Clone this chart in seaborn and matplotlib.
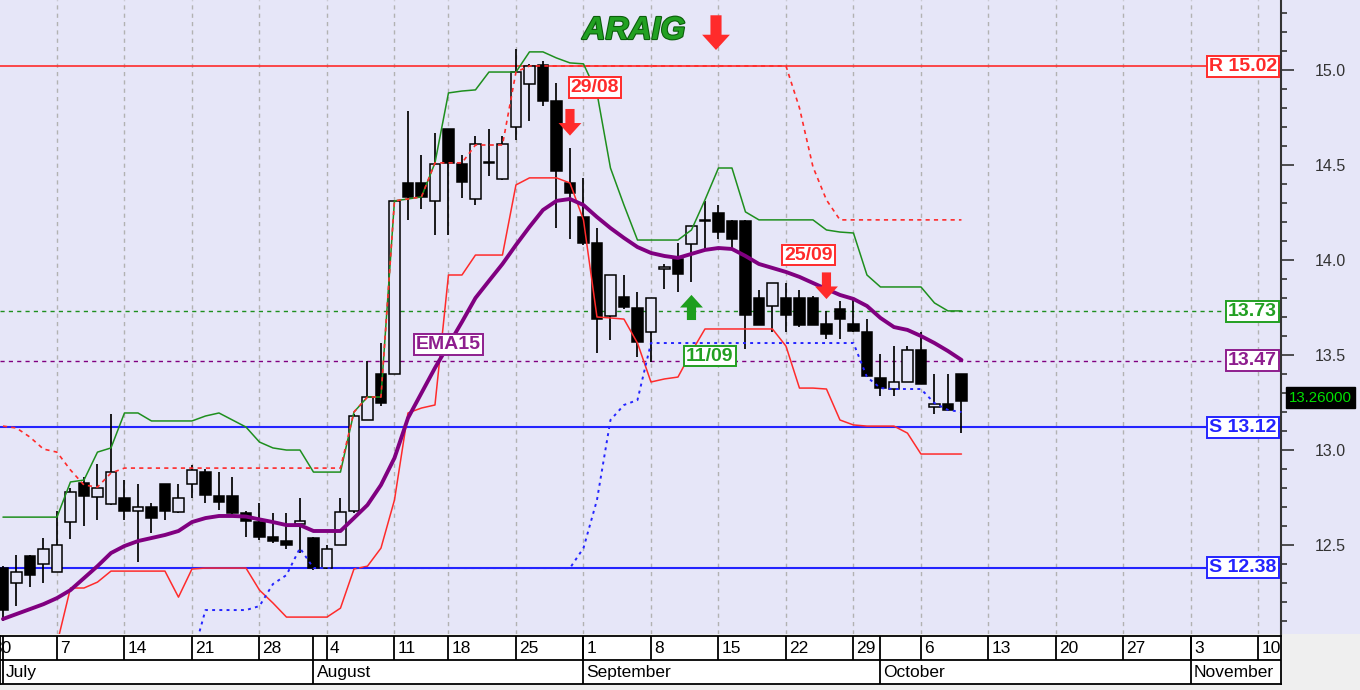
import numpy as np
import pandas as pd
import matplotlib
matplotlib.use("Agg")
import matplotlib.pyplot as plt
import matplotlib.patheffects as pe
from matplotlib.patches import Rectangle
from matplotlib.ticker import MultipleLocator, FormatStrFormatter
from matplotlib.transforms import offset_copy
import seaborn as sns

# ---------------------------------------------------------------- data
ticker = "ARAIG"
calendar_start, calendar_end = "2014-06-30", "2014-11-14"
holidays = ["2014-08-15"]
first_day, last_day = "2014-07-01", "2014-10-09"

opens = [12.38, 12.30, 12.44, 12.40, 12.36, 12.62, 12.825, 12.755, 12.715, 12.75,
         12.68, 12.70, 12.82, 12.675, 12.82, 12.885, 12.76, 12.76, 12.667, 12.62,
         12.54, 12.52, 12.61, 12.535, 12.38, 12.50, 12.68, 13.16, 13.40, 13.40,
         14.405, 14.405, 14.31, 14.69, 14.505, 14.32, 14.51, 14.425, 14.70, 14.925,
         15.025, 14.835, 14.405, 14.225, 14.09, 13.705, 13.805, 13.745, 13.62, 13.955,
         14.005, 14.085, 14.205, 14.245, 14.205, 14.205, 13.80, 13.76, 13.80, 13.80,
         13.80, 13.665, 13.74, 13.665, 13.62, 13.38, 13.32, 13.36, 13.525, 13.225,
         13.24, 13.40]
highs = [12.39, 12.45, 12.45, 12.535, 12.68, 12.80, 12.86, 12.925, 13.19, 12.84,
         12.82, 12.72, 12.82, 12.82, 12.92, 12.90, 12.885, 12.86, 12.68, 12.72,
         12.667, 12.667, 12.745, 12.54, 12.50, 12.745, 13.19, 13.47, 13.565, 14.31,
         14.785, 14.55, 14.67, 14.69, 14.55, 14.65, 14.69, 14.65, 15.11, 15.03,
         15.045, 14.93, 14.59, 14.43, 14.17, 13.92, 13.92, 13.83, 13.80, 13.98,
         14.09, 14.18, 14.31, 14.29, 14.21, 14.21, 13.84, 13.88, 13.88, 13.84,
         13.81, 13.73, 13.785, 13.79, 13.69, 13.505, 13.545, 13.545, 13.62, 13.40,
         13.40, 13.40]
lows = [12.10, 12.18, 12.28, 12.30, 12.36, 12.53, 12.60, 12.63, 12.71, 12.63,
        12.41, 12.565, 12.63, 12.67, 12.745, 12.72, 12.685, 12.665, 12.545, 12.525,
        12.51, 12.48, 12.46, 12.37, 12.375, 12.50, 12.67, 13.16, 13.23, 13.40,
        14.21, 14.27, 14.13, 14.13, 14.325, 14.29, 14.44, 14.42, 14.63, 14.73,
        14.81, 14.17, 14.11, 14.08, 13.51, 13.58, 13.74, 13.49, 13.465, 13.845,
        13.83, 13.885, 14.05, 14.11, 14.065, 13.53, 13.66, 13.62, 13.62, 13.65,
        13.66, 13.585, 13.585, 13.62, 13.385, 13.285, 13.285, 13.36, 13.345, 13.19,
        13.205, 13.09]
closes = [12.16, 12.36, 12.34, 12.48, 12.50, 12.78, 12.76, 12.80, 12.885, 12.68,
          12.70, 12.645, 12.68, 12.745, 12.895, 12.765, 12.725, 12.667, 12.628, 12.545,
          12.52, 12.50, 12.625, 12.38, 12.48, 12.675, 13.18, 13.28, 13.25, 14.31,
          14.33, 14.33, 14.505, 14.51, 14.41, 14.61, 14.515, 14.61, 14.99, 15.02,
          14.835, 14.47, 14.35, 14.09, 13.69, 13.92, 13.75, 13.57, 13.80, 13.96,
          13.925, 14.18, 14.21, 14.145, 14.11, 13.71, 13.66, 13.88, 13.71, 13.66,
          13.66, 13.61, 13.69, 13.625, 13.39, 13.325, 13.36, 13.525, 13.35, 13.24,
          13.21, 13.26]
ema15 = [12.111, 12.137, 12.163, 12.189, 12.221, 12.263, 12.326, 12.389, 12.458, 12.495,
         12.521, 12.537, 12.553, 12.574, 12.621, 12.642, 12.653, 12.653, 12.650, 12.635,
         12.621, 12.605, 12.605, 12.574, 12.574, 12.574, 12.642, 12.711, 12.816, 12.958,
         13.168, 13.300, 13.432, 13.553, 13.674, 13.800, 13.890, 13.979, 14.079, 14.174,
         14.263, 14.311, 14.321, 14.289, 14.226, 14.168, 14.116, 14.068, 14.037, 14.021,
         14.011, 14.032, 14.053, 14.063, 14.058, 14.021, 13.979, 13.958, 13.937, 13.911,
         13.879, 13.847, 13.816, 13.795, 13.758, 13.695, 13.647, 13.632, 13.600, 13.563,
         13.521, 13.474]
upper_band = [12.647, 12.647, 12.647, 12.647, 12.647, 12.832, 12.842, 12.989, 13.011, 13.195,
              13.195, 13.153, 13.153, 13.153, 13.153, 13.179, 13.195, 13.158, 13.121, 13.042,
              13.011, 13.000, 13.000, 12.884, 12.884, 12.884, 13.200, 13.279, 13.279, 14.311,
              14.321, 14.332, 14.511, 14.879, 14.889, 14.895, 14.989, 14.989, 14.989, 15.095,
              15.095, 15.063, 15.037, 15.032, 14.879, 14.484, 14.289, 14.105, 14.105, 14.105,
              14.105, 14.158, 14.316, 14.484, 14.484, 14.253, 14.211, 14.211, 14.211, 14.211,
              14.211, 14.158, 14.147, 14.142, 13.921, 13.858, 13.858, 13.858, 13.858, 13.774,
              13.732, 13.732]
lower_band = [np.nan, np.nan, np.nan, np.nan, 11.980, 12.274, 12.274, 12.305, 12.363, 12.363,
              12.363, 12.363, 12.363, 12.226, 12.374, 12.379, 12.379, 12.379, 12.379, 12.263,
              12.195, 12.121, 12.121, 12.121, 12.121, 12.168, 12.374, 12.389, 12.484, 12.737,
              13.195, 13.221, 13.237, 13.921, 13.921, 14.026, 14.026, 14.026, 14.395, 14.432,
              14.432, 14.432, 14.405, 14.211, 13.700, 13.695, 13.689, 13.563, 13.358, 13.374,
              13.384, 13.516, 13.637, 13.637, 13.637, 13.637, 13.637, 13.637, 13.547, 13.326,
              13.326, 13.321, 13.158, 13.132, 13.126, 13.126, 13.126, 13.089, 12.979, 12.979,
              12.979, 12.979]
stop_above = [13.126, 13.116, 13.068, 13.005, 12.989, 12.895, 12.816, 12.805, 12.879, 12.905,
              12.905, 12.905, 12.905, 12.905, 12.905, 12.905, 12.905, 12.905, 12.905, 12.905,
              12.905, 12.905, 12.905, 12.905, 12.905, 12.905, 13.200, 13.279, 13.279, 14.311,
              14.321, 14.332, 14.511, 14.511, 14.511, 14.605, 14.605, 14.605, 14.989, 15.021,
              15.021, 15.021, 15.021, 15.021, 15.021, 15.021, 15.021, 15.021, 15.021, 15.021,
              15.021, 15.021, 15.021, 15.021, 15.021, 15.021, 15.021, 15.021, 15.021, 14.800,
              14.490, 14.316, 14.211, 14.211, 14.211, 14.211, 14.211, 14.211, 14.211, 14.211,
              14.211, 14.211]
stop_below = [np.nan, np.nan, np.nan, np.nan, np.nan, np.nan, np.nan, np.nan, np.nan, np.nan,
              np.nan, np.nan, np.nan, np.nan, 11.900, 12.158, 12.158, 12.158, 12.158, 12.179,
              12.295, 12.342, 12.484, 12.379, 12.379, 12.379, 12.379, 12.379, 12.379, 12.379,
              12.379, 12.379, 12.379, 12.379, 12.379, 12.379, 12.379, 12.379, 12.379, 12.379,
              12.379, 12.379, 12.379, 12.484, 12.737, 13.158, 13.237, 13.263, 13.563, 13.563,
              13.563, 13.563, 13.563, 13.563, 13.563, 13.563, 13.563, 13.563, 13.563, 13.563,
              13.563, 13.563, 13.563, 13.563, 13.384, 13.326, 13.321, 13.321, 13.321, 13.247,
              13.211, 13.200]
resistance_levels = [15.02]
support_levels = [13.12, 12.38]
band_level = 13.73
ema_level = 13.47
last_price = 13.26
sell_signals = ["2014-08-29", "2014-09-25"]
buy_signals = ["2014-09-11"]
ema_label_date = "2014-08-18"

# ---------------------------------------------------------------- style
sns.set_theme(style="white")
plt.rcParams["font.family"] = ["Liberation Sans", "DejaVu Sans"]

BG = "#E6E6F8"
GREEN = "#1E8F1E"
RED = "#FF2B2B"
BLUE = "#2424FF"
PURPLE = "#800080"
LBL_GREEN = "#22A022"
LBL_PURPLE = "#8E1E8E"
XLIM = (0.78, 95.67)

W, H = 1360, 690
fig = plt.figure(figsize=(W / 100, H / 100), dpi=100, facecolor="#EFEFEF")
fig.patches.append(Rectangle((0, 56 / H), 1, 1 - 56 / H, transform=fig.transFigure,
                             fc=BG, ec="none", zorder=-10))
ax = fig.add_axes([0, 56 / H, 1281 / W, 634 / H])
axd = fig.add_axes([0, 6 / H, 1281 / W, 48 / H], sharex=ax)
ax.set_facecolor(BG)

# trading-day calendar -> x positions
cal = pd.bdate_range(calendar_start, calendar_end)
cal = cal[~cal.isin(pd.to_datetime(holidays))]
dates = cal[(cal >= first_day) & (cal <= last_day)]
pos = np.array([cal.get_loc(d) for d in dates], dtype=float)


def pos_of(d):
    return float(cal.get_loc(pd.Timestamp(d)))


def row_of(d):
    return list(dates).index(pd.Timestamp(d))


mondays = cal[cal.weekday == 0]
mon_pos = [float(cal.get_loc(d)) for d in mondays]
month_first = cal.to_series().groupby(cal.to_period("M")).min()
month_first = month_first[month_first >= pd.Timestamp(first_day)]
month_pos = [float(cal.get_loc(d)) for d in month_first]

# gridlines
ax.set_xticks(mon_pos)
ax.grid(True, axis="x", color="#B2B2B2", linestyle=(0, (3, 3)), linewidth=1.0)
ax.set_axisbelow(True)

# horizontal levels
for r in resistance_levels:
    ax.axhline(r, color=RED, lw=1.2, zorder=1.5)
for s in support_levels:
    ax.axhline(s, color=BLUE, lw=1.5, zorder=1.5)
ax.axhline(band_level, color=GREEN, lw=1.0, ls=(0, (3, 3)), zorder=1.5)
ax.axhline(ema_level, color=PURPLE, lw=1.0, ls=(0, (3, 3)), zorder=1.5)

# candles
o, h, l, c = (np.array(v, dtype=float) for v in (opens, highs, lows, closes))
up = c >= o
blo = np.minimum(o, c)
bhi = np.maximum(o, c)
bh = np.maximum(bhi - blo, 0.006)
ax.vlines(pos, l, blo, color="black", lw=1.25, zorder=3)
ax.vlines(pos, bhi, h, color="black", lw=1.25, zorder=3)
ax.bar(pos[up], bh[up], bottom=blo[up], width=0.76, color=BG, edgecolor="black",
       linewidth=1.1, zorder=3.2)
ax.bar(pos[~up], bh[~up], bottom=blo[~up], width=0.76, color="black", edgecolor="black",
       linewidth=1.1, zorder=3.2)

# indicator lines
df = pd.DataFrame({"pos": pos, "ema": ema15, "upper": upper_band, "lower": lower_band,
                   "stop_hi": stop_above, "stop_lo": stop_below})
sns.lineplot(data=df, x="pos", y="upper", color=GREEN, linewidth=1.1, ax=ax, zorder=4)
sns.lineplot(data=df, x="pos", y="lower", color=RED, linewidth=1.1, ax=ax, zorder=4)
sns.lineplot(data=df, x="pos", y="stop_hi", color=RED, linewidth=1.2,
             linestyle=(0, (2.5, 2.5)), ax=ax, zorder=4.2)
sns.lineplot(data=df, x="pos", y="stop_lo", color=BLUE, linewidth=1.4,
             linestyle=(0, (1.5, 2.2)), ax=ax, zorder=4.2)
sns.lineplot(data=df, x="pos", y="ema", color=PURPLE, linewidth=2.8, ax=ax, zorder=4.5)
ax.set(xlabel="", ylabel="")

ax.set_xlim(*XLIM)
ax.set_ylim(12.032, 15.368)

# right axis
ax.yaxis.tick_right()
ax.yaxis.set_major_locator(MultipleLocator(0.5))
ax.yaxis.set_minor_locator(MultipleLocator(0.1))
ax.yaxis.set_major_formatter(FormatStrFormatter("%.1f"))
ax.tick_params(axis="y", which="major", direction="out", length=9.5, width=1.2,
               color="#333333", pad=15, labelsize=11.5, labelcolor="#333333",
               right=True, left=False)
ax.tick_params(axis="y", which="minor", direction="out", length=4.5, width=1.2,
               color="#333333", right=True, left=False)
ax.tick_params(axis="x", length=0, labelbottom=False, bottom=False)
for s in ["top", "left", "bottom"]:
    ax.spines[s].set_visible(False)
ax.spines["right"].set_color("#333333")
ax.spines["right"].set_linewidth(1.5)

# labels on the right
yt = ax.get_yaxis_transform()
box_kw = dict(fontsize=14, fontweight="bold", zorder=8, va="center")


def level_label(val, text, color):
    ax.text(0.9966, val, text, transform=yt, ha="right", color=color,
            bbox=dict(boxstyle="square,pad=0.1", fc="white", ec=color, lw=1.4), **box_kw)


for r in resistance_levels:
    level_label(r, f"R {r:.2f}", RED)
for s in support_levels:
    level_label(s, f"S {s:.2f}", BLUE)
level_label(band_level, f"{band_level:.2f}", LBL_GREEN)
level_label(ema_level, f"{ema_level:.2f}", LBL_PURPLE)

ax.text(1289 / 1281, last_price + 0.015, f"{last_price:.5f}", transform=yt, ha="left",
        va="center", fontsize=10.8, color="#00E000", clip_on=False, zorder=9,
        bbox=dict(boxstyle="square,pad=0.22", fc="black", ec="black"))


# signals
def fat_arrow(xy, tail_pts, color, scale, shrink, coords="data"):
    ax.annotate("", xy=xy, xycoords=coords, xytext=tail_pts, textcoords="offset points",
                arrowprops=dict(arrowstyle="simple,head_length=0.55,head_width=1.0,tail_width=0.4",
                                fc=color, ec="none", mutation_scale=scale,
                                shrinkA=0, shrinkB=shrink), zorder=8)


def box_label(text, xy, offset, color):
    ax.annotate(text, xy=xy, xytext=offset, textcoords="offset points", ha="center",
                color=color, bbox=dict(boxstyle="square,pad=0.1", fc="white", ec=color, lw=1.4),
                annotation_clip=False, **box_kw)


sell_offsets = {"2014-08-29": (18, 43.5), "2014-09-25": (-13, 40.5)}
for d in sell_signals:
    p = pos_of(d)
    hi = h[row_of(d)]
    fat_arrow((p, hi), (0, 28), RED, 16.5, 8.8)
    box_label(pd.Timestamp(d).strftime("%d/%m"), (p, hi), sell_offsets[d], RED)

for d in buy_signals:
    p = pos_of(d)
    lo = l[row_of(d)]
    fat_arrow((p, lo), (0, -27.5), "#1E9E1E", 16.5, 9.4)
    box_label(pd.Timestamp(d).strftime("%d/%m"), (p, lo), (13.3, -53.4), LBL_GREEN)

box_label("EMA15", (pos_of(ema_label_date), ema15[row_of(ema_label_date)]),
          (0, 0), LBL_PURPLE)

# title
ax.text(634 / 1281, 1 - 31 / 634, ticker, transform=ax.transAxes, ha="center", va="center",
        fontsize=23, fontweight="bold", fontstyle="italic", color="#22A022", zorder=9,
        path_effects=[pe.withStroke(linewidth=1.6, foreground="#0B5E0B")])
fat_arrow((716 / 1281, 1 - 50 / 634), (0, 25), RED, 20, 0, coords="axes fraction")

# ---------------------------------------------------------------- date rows
axd.set_ylim(0, 2)
axd.set_facecolor("white")
axd.grid(False)
axd.tick_params(left=False, bottom=False, labelleft=False, labelbottom=False, length=0)
for s in axd.spines.values():
    s.set_color("black")
    s.set_linewidth(1.3)
    s.set_visible(True)
axd.axhline(1, color="black", lw=1.3)
axd.vlines(mon_pos, 1, 2, color="black", lw=1.3)
axd.vlines(month_pos, 0, 2, color="black", lw=1.3)
tr = offset_copy(axd.transData, fig=fig, x=2.2, y=0, units="points")
for p, d in zip(mon_pos, mondays):
    if p < XLIM[1]:
        axd.text(p, 1.48, str(d.day), transform=tr, ha="left", va="center", fontsize=12.5,
                 color="black", clip_on=True)
for p, d in zip(month_pos, month_first):
    axd.text(p, 0.48, d.strftime("%B"), transform=tr, ha="left", va="center", fontsize=12.5,
             color="black", clip_on=True)
axd.set_xlim(*XLIM)

fig.savefig("out.png", dpi=100, facecolor=fig.get_facecolor())
